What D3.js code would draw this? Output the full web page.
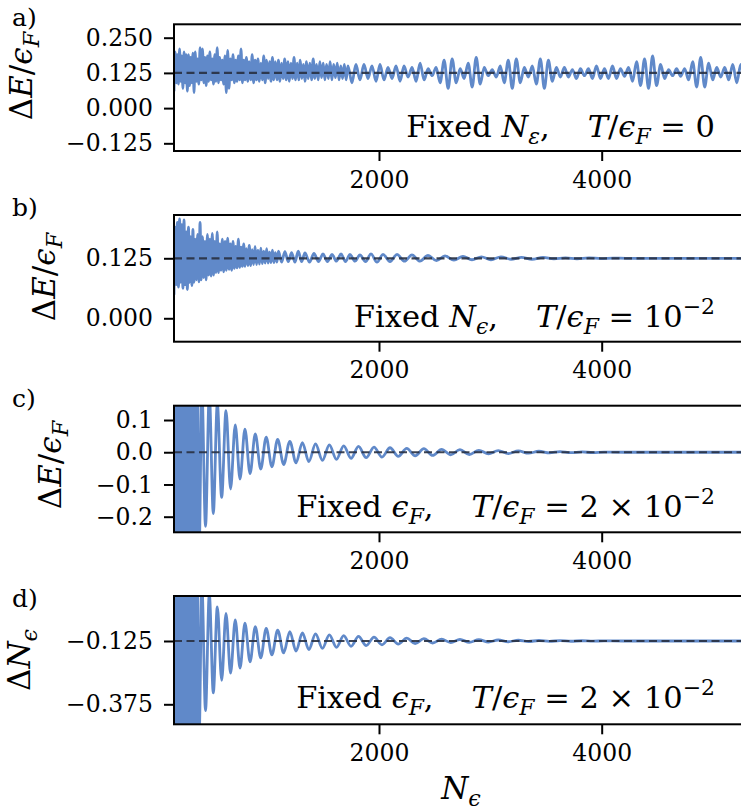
<!DOCTYPE html>
<html>
<head>
<meta charset="utf-8">
<script src="https://cdn.jsdelivr.net/npm/d3@7"></script>
<style>
  body { margin: 0; background: #fff; }
  text { font-family: "DejaVu Serif", "Liberation Serif", serif; fill: #000; }
</style>
</head>
<body>
<script>
// tick values
var xTicks = [2000, 4000];
var aTicks = [0.25, 0.125, 0, -0.125];
var bTicks = [0.125, 0];
var cTicks = [0.1, 0, -0.1, -0.2];
var dTicks = [-0.125, -0.375];

// dashed reference levels
var aRef = 0.125, bRef = 0.125, cRef = 0, dRef = -0.125;

// turning points of the fast wiggles at small N (panels a and b)
var denseN = [159,169,179,189,199,209,219,229,239,249,259,269,279,289,299,309,319,329,339,349,
  360,371,382,393,404,415,426,437,448,459,470,481,492,503,514,525,536,547,558,569,
  581,593,605,617,629,641,653,665,677,689,701,713,725,737,749,761,773,785,797,809,
  822,835,848,861,874,887,900,913,926,939,952,965,978,991,1004,1017,1030,1043,1056,1069,
  1083,1097,1111,1125,1139,1153,1167,1181,1195,1209,1223,1237,1251,1265,1279,1293,1307,1321,1335,1349,
  1364,1379,1394,1409,1424,1439,1454,1469,1484,1499,1514,1529,
  1545,1561,1577,1593,1609,1625,1641,1657,1673,1689,1705,1721];

// panel a
var aDense = [0.06,0.2,0.09,0.19,0.085,0.21,0.095,0.185,0.07,0.2,0.09,0.19,0.06,0.19,0.08,0.18,0.09,0.195,0.055,0.2,
  0.095,0.175,0.085,0.215,0.1,0.21,0.09,0.18,0.08,0.185,0.095,0.2,0.1,0.175,0.085,0.19,0.095,0.215,0.09,0.18,
  0.1,0.17,0.085,0.185,0.055,0.205,0.07,0.175,0.1,0.19,0.09,0.17,0.095,0.185,0.1,0.21,0.09,0.17,0.1,0.18,
  0.095,0.165,0.1,0.19,0.09,0.17,0.1,0.175,0.095,0.16,0.1,0.185,0.09,0.17,0.105,0.165,0.095,0.18,0.1,0.165,
  0.1,0.17,0.095,0.16,0.105,0.175,0.1,0.165,0.095,0.16,0.105,0.18,0.1,0.16,0.1,0.17,0.105,0.155,0.095,0.165,
  0.105,0.16,0.1,0.175,0.105,0.155,0.1,0.165,0.108,0.16,0.1,0.155,
  0.105,0.165,0.1,0.155,0.108,0.16,0.1,0.15,0.105,0.155,0.1,0.15];
var aTailN = [1757,1793,1829,1865,1901,1937,1973,2009,2045,2081,2117,2153,2189,2225,2261,2297,2333,2369,2405,2441,2477,2513,2549,2585,2621,2657,2693,2729,2765,2801,2837,2873,2909,2945,2981,3017,3053,3089,3125,3161,3197,3233,3269,3305,3341,3377,3413,3449,3485,3521,3557,3593,3629,3665,3701,3737,3773,3809,3845,3881,3917,3953,3989,4025,4061,4097,4133,4169,4205,4241,4277,4313,4349,4385,4421,4457,4493,4529,4565,4601,4637,4673,4709,4745,4781,4817,4853,4889,4925,4961,4997,5033,5069,5105,5141,5177,5213,5249,5285,5321,5357,5393,5429];
var aTail = [0.09,0.155,0.1,0.155,0.105,0.15,0.095,0.155,0.1,0.145,0.105,0.15,
  0.095,0.15,0.11,0.145,0.095,0.16,0.1,0.14,0.115,0.145,0.09,0.17,
  0.07,0.175,0.09,0.14,0.105,0.16,0.075,0.18,0.085,0.145,0.115,0.137,
  0.11,0.15,0.09,0.17,0.07,0.175,0.09,0.145,0.11,0.15,0.085,0.175,
  0.07,0.17,0.095,0.145,0.11,0.145,0.11,0.137,0.105,0.14,0.115,0.14,
  0.105,0.15,0.105,0.14,0.105,0.15,0.105,0.14,0.113,0.145,0.095,0.165,
  0.08,0.175,0.07,0.185,0.08,0.155,0.105,0.137,0.115,0.14,0.113,0.14,
  0.1,0.165,0.075,0.18,0.075,0.16,0.1,0.145,0.11,0.145,0.1,0.155,
  0.09,0.155,0.1,0.145,0.11,0.145,0.105];

// panel b (uses the first 82 dense positions)
var bDense = [0.049,0.19,0.07,0.2,0.065,0.207,0.075,0.195,0.0625,0.205,0.07,0.18,0.06,0.19,0.075,0.17,0.068,0.185,0.075,0.165,
  0.08,0.175,0.076,0.2,0.08,0.17,0.085,0.16,0.08,0.175,0.09,0.165,0.088,0.177,0.09,0.16,0.095,0.18,0.095,0.155,
  0.1,0.165,0.097,0.16,0.1,0.167,0.102,0.155,0.1,0.16,0.104,0.15,0.105,0.165,0.106,0.148,0.108,0.155,0.108,0.145,
  0.11,0.152,0.11,0.143,0.112,0.15,0.112,0.142,0.113,0.146,0.114,0.14,0.115,0.145,0.115,0.138,0.116,0.142,0.116,0.137,
  0.117,0.14];
var bTailN = [1125,1155,1185,1215,1245,1275,1305,1335,1376,1416,1457,1497,1537,1578,1618,1659,1699,1739,1784,1829,1879,1928,1982,2036,2099,2162,2229,2296,2368,2440,2516,2593,2673,2754,2835,2920,3006,3095,3185,3280,3374,3473,3571,3675,3778,3886,3993,4106,4218,5320];
var bTail = [0.117,0.139,0.118,0.137,0.117,0.14,0.118,0.136,0.117,0.135,0.118,0.134,0.118,0.133,0.119,0.134,0.118,0.133,0.119,0.132,0.118,0.134,0.117,0.133,0.118,0.133,0.119,0.132,0.119,0.131,0.12,0.13,0.121,0.129,0.122,0.128,0.122,0.128,0.123,0.127,0.123,0.127,0.124,0.126,0.124,0.126,0.1245,0.1255,0.125,0.125];

// panels c and d share the positions of their turning points
var cdN = [159,164,174,184,194,205,216,227,238,250,262,274,287,300,313,327,341,355,370,385,409,442,476,512,548,587,626,667,709,752,796,842,889,938,987,1038,1090,1144,1199,1255,1312,1370,1430,1492,1554,1618,1683,1749,1816,1885,1955,2027,2099,2173,2249,2325,2403,2482,2562,2644,2727,2811,2897,2983,3071,3161,3251,3343,3436,3531,3626,3723,3822,3921,4022,4200,5320];
var cE = [-0.08,-0.32,0.2,-0.32,0.2,-0.32,0.2,-0.32,0.2,-0.32,0.2,-0.32,0.2,-0.32,0.2,-0.32,0.2,-0.32,0.2,-0.3,0.2,-0.23,
  0.18,-0.19,0.15,-0.14,0.129,-0.114,0.085,-0.083,0.072,-0.066,0.057,-0.052,0.047,-0.045,0.04,-0.038,0.034,-0.033,0.03,-0.029,0.026,-0.025,0.023,-0.022,0.02,-0.019,0.018,-0.017,0.016,-0.015,0.014,-0.013,0.012,-0.011,0.011,-0.01,0.009,-0.008,0.008,-0.007,0.006,-0.005,0.005,-0.004,0.004,-0.003,0.003,-0.002,0.002,-0.0015,0.001,-0.001,0.0005,0,0];
var dV = [-0.25,-0.5,0.1,-0.5,0.1,-0.5,0.1,-0.5,0.1,-0.5,0.1,-0.5,0.1,-0.5,0.1,-0.5,0.1,-0.5,0.1,-0.5,0.1,-0.4,
  0.06,-0.33,0.01,-0.28,-0.016,-0.252,-0.042,-0.232,-0.055,-0.207,-0.068,-0.192,-0.075,-0.18,-0.082,-0.172,-0.088,-0.165,-0.093,-0.159,-0.097,-0.154,-0.101,-0.15,-0.104,-0.146,-0.107,-0.143,-0.11,-0.14,-0.112,-0.137,-0.114,-0.135,-0.116,-0.133,-0.118,-0.131,-0.119,-0.13,-0.12,-0.129,-0.121,-0.128,-0.122,-0.127,-0.123,-0.1265,-0.1235,-0.126,-0.124,-0.1255,-0.1245,-0.125,-0.125];

var width = 741;
var height = 810;

var svg = d3.select("body")
  .append("svg")
  .attr("width", width)
  .attr("height", height);

var x = d3.scaleLinear().domain([159, 5296]).range([174, 746]);

// write math-ish text with tspans: r = roman, i = italic, s = italic subscript, u = roman superscript
function mathText(sel, parts, size) {
  var shift = 0;
  parts.forEach(function(p) {
    var kind = p[1];
    var target = 0, fs = size;
    if (kind == "s") { target = 0.22 * size; fs = 0.72 * size; }
    if (kind == "u") { target = -0.42 * size; fs = 0.72 * size; }
    var t = sel.append("tspan").text(p[0])
      .attr("dy", target - shift)
      .style("font-size", fs + "px");
    if (kind == "i" || kind == "s") t.style("font-style", "italic");
    if (p[2]) t.attr("dx", p[2]);
    shift = target;
  });
}

function zip(ns, vs) {
  return ns.map(function(n, i) { return [n, vs[i]]; });
}

var aData = zip(denseN.concat(aTailN), aDense.concat(aTail));
var bData = zip(denseN.slice(0, bDense.length).concat(bTailN), bDense.concat(bTail));

var labE = [["Δ","r"],["E","i"],["/","r"],["ϵ","i"],["F","s"]];
var tickSize = 23.5, noteSize = 30.5, labSize = 31, gap = 38;

var panels = [
  { tag: "a)", data: aData, ref: aRef, ticks: aTicks, fmt: d3.format(".3f"), top: 24.3, bottom: 151, dom: [-0.1523, 0.2976],
    tagY: 26, labX: 32, labY: 76, lab: labE,
    noteY: 137, note: [["Fixed ","r"],["N","i"],["ε","s"],[",","r"],["T","i",gap],["/","r"],["ϵ","i"],["F","s"],[" = 0","r"]] },
  { tag: "b)", data: bData, ref: bRef, ticks: bTicks, fmt: d3.format(".3f"), top: 215, bottom: 341.7, dom: [-0.0488, 0.2152],
    tagY: 216, labX: 55, labY: 277, lab: labE,
    noteY: 327, note: [["Fixed ","r"],["N","i"],["ϵ","s"],[",","r"],["T","i",gap],["/","r"],["ϵ","i"],["F","s"],[" = 10","r"],["−2","u"]] },
  { tag: "c)", data: zip(cdN, cE), ref: cRef, ticks: cTicks, fmt: d3.format(".1f"), top: 405.7, bottom: 532.3, dom: [-0.2484, 0.1444],
    tagY: 407, labX: 61, labY: 465, lab: labE,
    noteY: 517, note: [["Fixed ","r"],["ϵ","i"],["F","s"],[",","r"],["T","i",gap],["/","r"],["ϵ","i"],["F","s"],[" = 2 × 10","r"],["−2","u"]] },
  { tag: "d)", data: zip(cdN, dV), ref: dRef, ticks: dTicks, fmt: d3.format(".3f"), top: 596, bottom: 724.3, dom: [-0.454, 0.0527],
    tagY: 607, labX: 30, labY: 660, lab: [["Δ","r"],["N","i"],["ϵ","s"]],
    noteY: 708, note: [["Fixed ","r"],["ϵ","i"],["F","s"],[",","r"],["T","i",gap],["/","r"],["ϵ","i"],["F","s"],[" = 2 × 10","r"],["−2","u"]] }
];

panels.forEach(function(p, i) {
  var y = d3.scaleLinear().domain(p.dom).range([p.bottom, p.top]);
  var g = svg.append("g");

  svg.append("clipPath").attr("id", "clip" + i)
    .append("rect")
    .attr("x", x.range()[0]).attr("y", p.top)
    .attr("width", x.range()[1] - x.range()[0]).attr("height", p.bottom - p.top);

  var line = d3.line()
    .x(function(d) { return x(d[0]); })
    .y(function(d) { return y(d[1]); })
    .curve(d3.curveMonotoneX);

  g.append("path")
    .datum(p.data)
    .attr("clip-path", "url(#clip" + i + ")")
    .attr("d", line)
    .attr("fill", "none")
    .attr("stroke", "#6089c9")
    .attr("stroke-width", 2.8)
    .attr("stroke-linejoin", "round");

  // dashed reference
  g.append("line")
    .attr("x1", x.range()[0]).attr("x2", x.range()[1])
    .attr("y1", y(p.ref)).attr("y2", y(p.ref))
    .attr("stroke", "#283040")
    .attr("stroke-opacity", 0.9)
    .attr("stroke-width", 2.2)
    .attr("stroke-dasharray", "8,4.5");

  // frame
  g.append("rect")
    .attr("x", x.range()[0]).attr("y", p.top)
    .attr("width", x.range()[1] - x.range()[0]).attr("height", p.bottom - p.top)
    .attr("fill", "none").attr("stroke", "#000").attr("stroke-width", 2);

  var yAxis = g.append("g")
    .attr("transform", "translate(" + x.range()[0] + ",0)")
    .call(d3.axisLeft(y).tickValues(p.ticks).tickFormat(p.fmt).tickSize(10).tickPadding(11));
  var xAxis = g.append("g")
    .attr("transform", "translate(0," + p.bottom + ")")
    .call(d3.axisBottom(x).tickValues(xTicks).tickFormat(d3.format("d")).tickSize(10).tickPadding(10));

  [yAxis, xAxis].forEach(function(ax) {
    ax.select(".domain").remove();
    ax.selectAll(".tick line").attr("stroke", "#000").attr("stroke-width", 2);
    ax.selectAll(".tick text")
      .style("font-family", '"DejaVu Serif", serif')
      .style("font-size", tickSize + "px");
  });

  g.append("text")
    .attr("x", 12).attr("y", p.tagY)
    .style("font-size", "25px")
    .text(p.tag);

  var lab = g.append("text")
    .attr("transform", "translate(" + p.labX + "," + p.labY + ") rotate(-90)")
    .attr("text-anchor", "middle")
    .attr("dy", "0.35em")
    .style("font-size", labSize + "px");
  mathText(lab, p.lab, labSize);

  var note = g.append("text")
    .attr("x", 715).attr("y", p.noteY)
    .attr("text-anchor", "end")
    .style("font-size", noteSize + "px");
  mathText(note, p.note, noteSize);
});

var xl = svg.append("text")
  .attr("x", 461).attr("y", 799)
  .attr("text-anchor", "middle")
  .style("font-size", labSize + "px");
mathText(xl, [["N","i"],["ϵ","s"]], labSize);
</script>
</body>
</html>
